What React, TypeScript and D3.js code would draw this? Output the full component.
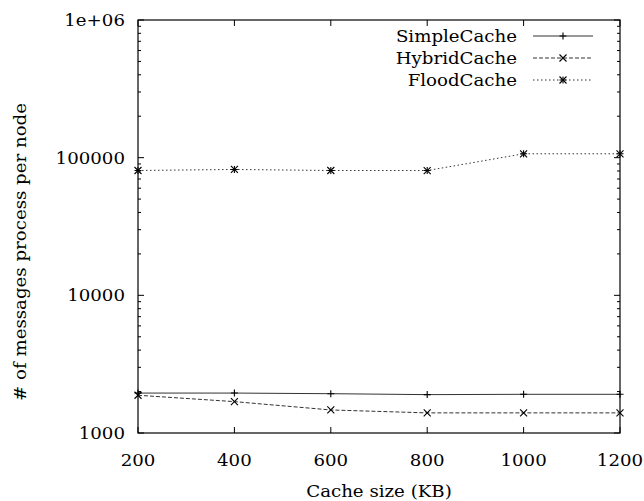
import React from "react";
import * as d3 from "d3";

// Cache sizes (KB) on the x axis
const cacheSizes = [200, 400, 600, 800, 1000, 1200];
// Messages processed per node, per caching scheme
const simpleCache = [1950, 1950, 1930, 1900, 1910, 1910];
const hybridCache = [1880, 1690, 1470, 1400, 1400, 1400];
const floodCache = [80700, 82100, 80700, 80600, 106700, 106700];

const xTicks = [200, 400, 600, 800, 1000, 1200];
const yTicks = [1000, 10000, 100000, 1000000];
const yTickLabels = ["1000", "10000", "100000", "1e+06"];

const seriesNames = ["SimpleCache", "HybridCache", "FloodCache"];

const W = 644;
const H = 501;
const M = { left: 138, right: 620, top: 20, bottom: 433 };
const FONT = "'DejaVu Serif', serif";
const SX = 1.07; // horizontal stretch of the text

function Marker({ kind, x, y }: { kind: string; x: number; y: number }) {
  const s = 3.5;
  const plus = (
    <path d={`M${x - s},${y}H${x + s}M${x},${y - s}V${y + s}`} />
  );
  const cross = (
    <path d={`M${x - s},${y - s}L${x + s},${y + s}M${x - s},${y + s}L${x + s},${y - s}`} />
  );
  return (
    <g stroke="#000" strokeWidth={1.1} fill="none">
      {kind === "plus" && plus}
      {kind === "cross" && cross}
      {kind === "star" && (
        <>
          {plus}
          {cross}
        </>
      )}
    </g>
  );
}

function T({
  x,
  y,
  children,
  anchor = "middle",
  size = 17,
  rotate = 0,
}: {
  x: number;
  y: number;
  children: React.ReactNode;
  anchor?: string;
  size?: number;
  rotate?: number;
}) {
  const tf = rotate
    ? `translate(${x},${y}) rotate(${rotate}) scale(${SX},1)`
    : `translate(${x},${y}) scale(${SX},1)`;
  return (
    <text
      transform={tf}
      textAnchor={anchor as any}
      style={{ fontFamily: FONT, fontSize: size }}
      fill="#000"
    >
      {children}
    </text>
  );
}

export default function App() {
  const x = d3.scaleLinear().domain([200, 1200]).range([M.left, M.right]);
  const y = d3.scaleLog().domain([1000, 1000000]).range([M.bottom, M.top]);

  const line = (vals: number[]) =>
    d3
      .line<number>()
      .x((_, i) => x(cacheSizes[i]))
      .y((v) => y(v))(vals) as string;

  const series = [
    { name: seriesNames[0], vals: simpleCache, dash: "none", marker: "plus" },
    { name: seriesNames[1], vals: hybridCache, dash: "4,2", marker: "cross" },
    { name: seriesNames[2], vals: floodCache, dash: "1.5,2.5", marker: "star" },
  ];

  // minor ticks at 2..9 within each decade
  const minor: number[] = [];
  for (let d = 1000; d < 1000000; d *= 10) {
    for (let k = 2; k <= 9; k++) minor.push(d * k);
  }

  return (
    <svg
      width={W}
      height={H}
      style={{ position: "absolute", left: 0, top: 0, background: "#fff" }}
    >
      {/* data lines */}
      {series.map((s) => (
        <g key={s.name}>
          <path
            d={line(s.vals)}
            fill="none"
            stroke="#333"
            strokeWidth={1}
            strokeDasharray={s.dash}
          />
          {s.vals.map((v, i) => (
            <Marker key={i} kind={s.marker} x={x(cacheSizes[i])} y={y(v)} />
          ))}
        </g>
      ))}

      {/* frame */}
      <rect
        x={M.left}
        y={M.top}
        width={M.right - M.left}
        height={M.bottom - M.top}
        fill="none"
        stroke="#000"
        strokeWidth={1.2}
      />

      {/* x ticks */}
      {xTicks.map((t) => (
        <g key={t} stroke="#000" strokeWidth={1}>
          <line x1={x(t)} x2={x(t)} y1={M.bottom} y2={M.bottom - 6} />
          <line x1={x(t)} x2={x(t)} y1={M.top} y2={M.top + 6} />
        </g>
      ))}
      {xTicks.map((t) => (
        <T key={t} x={x(t)} y={466}>
          {String(t)}
        </T>
      ))}

      {/* y ticks */}
      {yTicks.map((t, i) => (
        <g key={t}>
          <g stroke="#000" strokeWidth={1}>
            <line x1={M.left} x2={M.left + 6} y1={y(t)} y2={y(t)} />
            <line x1={M.right} x2={M.right - 6} y1={y(t)} y2={y(t)} />
          </g>
          <T x={125} y={y(t) + 6} anchor="end">
            {yTickLabels[i]}
          </T>
        </g>
      ))}
      {minor.map((t) => (
        <g key={t} stroke="#000" strokeWidth={1}>
          <line x1={M.left} x2={M.left + 3} y1={y(t)} y2={y(t)} />
          <line x1={M.right} x2={M.right - 3} y1={y(t)} y2={y(t)} />
        </g>
      ))}

      {/* axis titles */}
      <T x={379} y={497}>
        Cache size (KB)
      </T>
      <T x={26} y={252} rotate={-90}>
        # of messages process per node
      </T>

      {/* legend */}
      {series.map((s, i) => {
        const ly = 36 + i * 22;
        return (
          <g key={s.name}>
            <T x={517} y={ly + 6} anchor="end">
              {s.name}
            </T>
            <line
              x1={533}
              x2={593}
              y1={ly}
              y2={ly}
              stroke="#333"
              strokeWidth={1}
              strokeDasharray={s.dash}
            />
            <Marker kind={s.marker} x={563} y={ly} />
          </g>
        );
      })}
    </svg>
  );
}
